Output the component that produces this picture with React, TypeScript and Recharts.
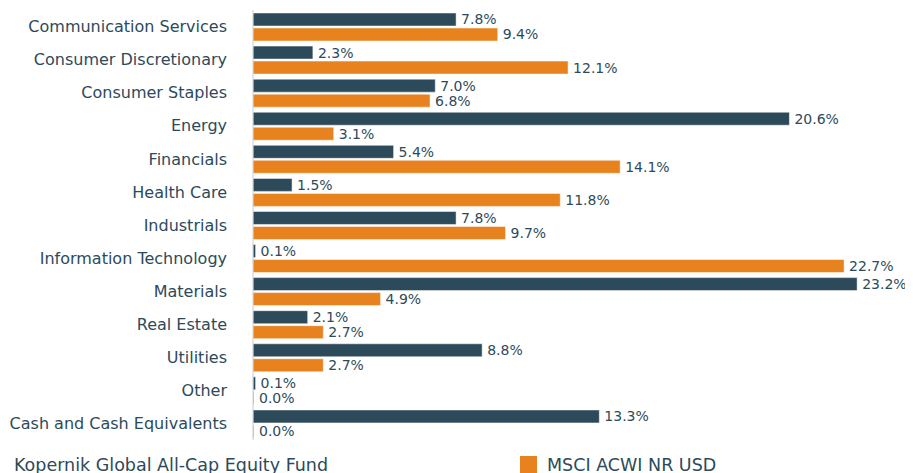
import { BarChart, Bar, XAxis, YAxis, LabelList, Legend } from 'recharts'

const sectors = [
  'Communication Services',
  'Consumer Discretionary',
  'Consumer Staples',
  'Energy',
  'Financials',
  'Health Care',
  'Industrials',
  'Information Technology',
  'Materials',
  'Real Estate',
  'Utilities',
  'Other',
  'Cash and Cash Equivalents',
]
const fundWeights = [7.8, 2.3, 7.0, 20.6, 5.4, 1.5, 7.8, 0.1, 23.2, 2.1, 8.8, 0.1, 13.3]
const benchmarkWeights = [9.4, 12.1, 6.8, 3.1, 14.1, 11.8, 9.7, 22.7, 4.9, 2.7, 2.7, 0.0, 0.0]

const FUND = 'Kopernik Global All-Cap Equity Fund'
const BENCH = 'MSCI ACWI NR USD'
const DARK = '#2d4a5a'
const ORANGE = '#e8821e'
const FONT = '"DejaVu Sans", sans-serif'

const chartData = sectors.map((name, i) => ({
  name,
  fund: fundWeights[i],
  bench: benchmarkWeights[i],
}))

const pct = (v: number) => `${Number(v).toFixed(1)}%`

function LegendContent() {
  const items = [
    { label: FUND, color: DARK, left: -13 },
    { label: BENCH, color: ORANGE, left: 520 },
  ]
  return (
    <div style={{ position: 'relative', height: 40, fontFamily: FONT, overflow: 'visible' }}>
      {items.map((it) => (
        <div key={it.label} style={{ position: 'absolute', left: 0, top: 16, transform: `translateX(${it.left}px)`, display: 'flex', alignItems: 'flex-start' }}>
          <svg width={17} height={17} style={{ flexShrink: 0, display: 'block' }}>
            <rect x={0} y={0} width={17} height={17} fill={it.color} />
          </svg>
          <span style={{ marginLeft: 10, marginTop: -1, fontSize: 17.5, color: DARK, lineHeight: '20px', whiteSpace: 'nowrap' }}>{it.label}</span>
        </div>
      ))}
    </div>
  )
}

export default function App() {
  return (
    <div style={{ margin: '-8px 0 0 -8px', width: 913, height: 473, overflow: 'hidden' }}>
      <BarChart
        width={913}
        height={480}
        data={chartData}
        layout="vertical"
        margin={{ top: 10, right: 9, left: 0, bottom: 0 }}
        barSize={13}
        barGap={2}
      >
        <XAxis type="number" domain={[0, 25]} hide />
        <YAxis
          type="category"
          dataKey="name"
          width={253}
          axisLine={{ stroke: '#cccccc' }}
          tickLine={false}
          tickMargin={20}
          interval={0}
          tick={{ fill: DARK, fontSize: 16, fontFamily: FONT }}
        />
        <Legend verticalAlign="bottom" content={() => <LegendContent />} />
        <Bar dataKey="fund" name={FUND} fill={DARK} stroke="#ffffff" strokeWidth={0.5} minPointSize={1} isAnimationActive={false}>
          <LabelList
            dataKey="fund"
            position="right"
            offset={5}
            formatter={pct}
            style={{ fill: DARK, fontSize: 14, fontFamily: FONT }}
          />
        </Bar>
        <Bar dataKey="bench" name={BENCH} fill={ORANGE} stroke="#ffffff" strokeWidth={0.5} minPointSize={1} isAnimationActive={false}>
          <LabelList
            dataKey="bench"
            position="right"
            offset={5}
            formatter={pct}
            style={{ fill: DARK, fontSize: 14, fontFamily: FONT }}
          />
        </Bar>
      </BarChart>
    </div>
  )
}
